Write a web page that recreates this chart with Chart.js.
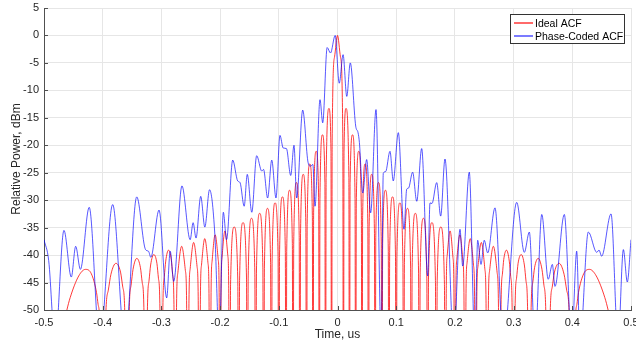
<!DOCTYPE html>
<html>
<head>
<meta charset="utf-8">
<script src="https://cdn.jsdelivr.net/npm/chart.js@4.4.1/dist/chart.umd.min.js"></script>
<style>
html,body{margin:0;padding:0;background:#ffffff;}
#wrap{width:636px;height:348px;position:relative;}
</style>
</head>
<body>
<div id="wrap"><canvas id="c" width="636" height="348"></canvas></div>
<script>
const seriesNames = ['Ideal ACF', 'Phase-Coded ACF'];
const seriesColors = ['rgba(255,0,0,0.78)', 'rgba(0,0,255,0.66)'];
const legendColors = ['rgba(255,0,0,0.9)', 'rgba(0,0,255,0.8)'];
const xTickValues = [-0.5, -0.4, -0.3, -0.2, -0.1, 0, 0.1, 0.2, 0.3, 0.4, 0.5];
const yTickValues = [-50, -45, -40, -35, -30, -25, -20, -15, -10, -5, 0, 5];
const xTitle = 'Time, us';
const yTitle = 'Relative Power, dBm';

const idealTime = [
  -0.5, -0.46838, -0.46127, -0.45528, -0.44084, -0.429289, -0.41938, -0.41056, -0.4078, -0.40513, -0.4,
  -0.39512, -0.39046, -0.38598, -0.377526, -0.36962, -0.36584, -0.36216, -0.358579,
  -0.355043, -0.35167, -0.34834, -0.341886, -0.33569, -0.33267, -0.329682, -0.326795,
  -0.323908, -0.32111, -0.31834, -0.312917, -0.30765, -0.30506, -0.3025, -0.3,
  -0.2975, -0.29506, -0.29264, -0.287868, -0.28321, -0.28091, -0.278629, -0.276393,
  -0.274157, -0.27196, -0.265479, -0.25917, -0.257092, -0.255051,
  -0.25301, -0.251, -0.245049, -0.23923, -0.237315, -0.235425,
  -0.233535, -0.23167, -0.226139, -0.22071, -0.218925, -0.217157,
  -0.215389, -0.21364, -0.208452, -0.20335, -0.201667, -0.2,
  -0.198333, -0.19668, -0.19178, -0.18695, -0.185353, -0.183772,
  -0.182191, -0.175963, -0.169846, -0.168338,
  -0.16683, -0.160884, -0.155033, -0.15359,
  -0.152147, -0.146447, -0.140832, -0.139445,
  -0.138058, -0.132577, -0.12717, -0.125834,
  -0.124498, -0.119211, -0.113993, -0.112702,
  -0.111411, -0.1063, -0.10125, -0.1,
  -0.09875, -0.093798, -0.088902, -0.087689,
  -0.086476, -0.08167, -0.076915, -0.075736,
  -0.074557, -0.069884, -0.065257, -0.06411,
  -0.062963, -0.058412, -0.053904, -0.052786,
  -0.051668, -0.047231, -0.042833, -0.041742,
  -0.040651, -0.036319, -0.032024, -0.030958,
  -0.029892, -0.025658, -0.02146, -0.020417,
  -0.019374, -0.01451, -0.011123, -0.010102,
  -0.009081, -0.005025,
  0,
  0.005025, 0.009081,
  0.010102, 0.011123, 0.01451, 0.019374,
  0.020417, 0.02146, 0.025658, 0.029892,
  0.030958, 0.032024, 0.036319, 0.040651,
  0.041742, 0.042833, 0.047231, 0.051668,
  0.052786, 0.053904, 0.058412, 0.062963,
  0.06411, 0.065257, 0.069884, 0.074557,
  0.075736, 0.076915, 0.08167, 0.086476,
  0.087689, 0.088902, 0.093798, 0.09875,
  0.1, 0.10125, 0.1063, 0.111411,
  0.112702, 0.113993, 0.119211, 0.124498,
  0.125834, 0.12717, 0.132577, 0.138058,
  0.139445, 0.140832, 0.146447, 0.152147,
  0.15359, 0.155033, 0.160884, 0.16683,
  0.168338, 0.169846, 0.175963, 0.182191,
  0.183772, 0.185353, 0.18695, 0.19178, 0.19668, 0.198333,
  0.2, 0.201667, 0.20335, 0.208452, 0.21364, 0.215389,
  0.217157, 0.218925, 0.22071, 0.226139, 0.23167, 0.233535,
  0.235425, 0.237315, 0.23923, 0.245049, 0.251, 0.25301,
  0.255051, 0.257092, 0.25917, 0.265479, 0.27196, 0.274157,
  0.276393, 0.278629, 0.28091, 0.28321, 0.287868, 0.29264, 0.29506, 0.2975,
  0.3, 0.3025, 0.30506, 0.30765, 0.312917, 0.31834, 0.32111, 0.323908,
  0.326795, 0.329682, 0.33267, 0.33569, 0.341886, 0.34834, 0.35167, 0.355043,
  0.358579, 0.36216, 0.36584, 0.36962, 0.377526, 0.38598, 0.39046, 0.39512,
  0.4, 0.40513, 0.4078, 0.41056, 0.41938, 0.429289, 0.44084, 0.45528, 0.46127, 0.46838, 0.5
];
const idealLevel = [
  -100, -53.6, -50.1, -47.7, -43.8, -42.6, -43.4, -46.8, -49.0, -52.3, -100,
  -52.1, -46.4, -43.5, -41.5, -43.1, -45.8, -51.3, -100,
  -51.2, -45.5, -42.6, -40.6, -42.3, -45.0, -50.5, -100,
  -50.4, -44.7, -41.8, -39.9, -41.5, -44.2, -49.8, -100,
  -49.6, -43.9, -41.1, -39.1, -40.8, -43.5, -49.0, -100,
  -48.9, -43.2, -38.4, -42.8, -48.3, -100,
  -48.2, -42.5, -37.7, -42.1, -47.6, -100,
  -47.5, -41.8, -37.0, -41.4, -47.0, -100,
  -46.8, -41.1, -36.3, -40.7, -46.2, -100,
  -46.1, -40.4, -35.6, -40.0, -45.5, -100,
  -45.4, -34.9, -44.7, -100,
  -44.6, -34.1, -44.0, -100,
  -43.8, -33.3, -43.1, -100,
  -42.9, -32.4, -42.2, -100,
  -42.0, -31.5, -41.3, -100,
  -41.1, -30.5, -40.2, -100,
  -40.0, -29.4, -39.1, -100,
  -38.9, -28.2, -37.9, -100,
  -37.6, -26.8, -36.4, -100,
  -36.1, -25.3, -34.8, -100,
  -34.4, -23.4, -32.8, -100,
  -32.3, -21.1, -30.3, -100,
  -29.7, -18.1, -26.8, -100,
  -25.9, -13.3, -21.1, -100,
  -19.2, -3.9,
  0,
  -3.9, -19.2,
  -100, -21.1, -13.3, -25.9,
  -100, -26.8, -18.1, -29.7,
  -100, -30.3, -21.1, -32.3,
  -100, -32.8, -23.4, -34.4,
  -100, -34.8, -25.3, -36.1,
  -100, -36.4, -26.8, -37.6,
  -100, -37.9, -28.2, -38.9,
  -100, -39.1, -29.4, -40.0,
  -100, -40.2, -30.5, -41.1,
  -100, -41.3, -31.5, -42.0,
  -100, -42.2, -32.4, -42.9,
  -100, -43.1, -33.3, -43.8,
  -100, -44.0, -34.1, -44.6,
  -100, -44.7, -34.9, -45.4,
  -100, -45.5, -40.0, -35.6, -40.4, -46.1,
  -100, -46.2, -40.7, -36.3, -41.1, -46.8,
  -100, -47.0, -41.4, -37.0, -41.8, -47.5,
  -100, -47.6, -42.1, -37.7, -42.5, -48.2,
  -100, -48.3, -42.8, -38.4, -43.2, -48.9,
  -100, -49.0, -43.5, -40.8, -39.1, -41.1, -43.9, -49.6,
  -100, -49.8, -44.2, -41.5, -39.9, -41.8, -44.7, -50.4,
  -100, -50.5, -45.0, -42.3, -40.6, -42.6, -45.5, -51.2,
  -100, -51.3, -45.8, -43.1, -41.5, -43.5, -46.4, -52.1,
  -100, -52.3, -49.0, -46.8, -43.4, -42.6, -43.8, -47.7, -50.1, -53.6, -100
];

const codedTime = [
  -0.5, -0.492, -0.481, -0.466, -0.4535, -0.446, -0.438, -0.423, -0.405, -0.383, -0.362,
  -0.342, -0.327, -0.322, -0.318, -0.304, -0.291, -0.285, -0.279, -0.265,
  -0.251, -0.246, -0.241, -0.233, -0.226, -0.218, -0.209, -0.2014, -0.1945, -0.189,
  -0.1785, -0.17, -0.166, -0.159, -0.1537, -0.146, -0.1377, -0.129, -0.126, -0.119,
  -0.112, -0.1048, -0.098, -0.0925, -0.087, -0.0797, -0.0741, -0.0695, -0.0593,
  -0.05, -0.046, -0.042, -0.0383, -0.0298, -0.0252, -0.0176, -0.0119, -0.004,
  0.003, 0.0095, 0.0158, 0.0218, 0.031, 0.035, 0.0373, 0.043, 0.0497, 0.0565, 0.0656,
  0.0745, 0.078, 0.082, 0.0894, 0.095, 0.1036, 0.1133, 0.1179, 0.121, 0.128, 0.135,
  0.1434, 0.1537, 0.1576, 0.161, 0.169, 0.1758, 0.1831, 0.198, 0.2087, 0.2133, 0.2245,
  0.234, 0.2388, 0.2445, 0.25, 0.2559, 0.2683, 0.2825, 0.3053, 0.3183, 0.3268,
  0.3365, 0.348, 0.359, 0.366, 0.3705, 0.3864, 0.399, 0.4075, 0.413, 0.4273,
  0.4416, 0.4455, 0.45, 0.466, 0.478, 0.487, 0.4937, 0.5
];
const codedLevel = [
  -37.2, -41.0, -56, -35.5, -44.0, -38.4, -42.6, -31.3, -56, -30.8, -56,
  -29.4, -39.0, -39.3, -40.4, -31.8, -47.8, -39.3, -44.8, -27.4,
  -37.2, -34.1, -36.9, -29.3, -34.9, -28.1, -36.2, -56, -32.2, -37.2,
  -22.7, -26.5, -26.8, -31.1, -25.3, -32.2, -21.9, -24.7, -24.4, -29.6,
  -22.7, -29.6, -18.2, -20.5, -20.6, -25.5, -20.0, -29.6, -13.6,
  -23.2, -23.8, -23.5, -31.1, -11.7, -15.9, -2.2, -3.2, 0,
  -8.7, -3.5, -11.1, -5.0, -16.5, -17.7, -19.5, -28.7, -22.6, -32.3, -13.5,
  -56, -25.1, -24.8, -21.1, -26.5, -17.7, -35.3, -28.0, -27.8, -24.9, -30.2,
  -20.6, -43.8, -30.5, -30.6, -26.8, -32.9, -22.5, -56, -35.3, -42.0, -24.9,
  -56, -37.3, -41.7, -37.3, -39.6, -31.4, -56, -30.4, -39.5, -35.8,
  -56, -32.6, -44.4, -41.7, -45.7, -32.6, -56, -39.3, -56, -35.8,
  -39.5, -39.1, -40.2, -32.5, -56, -39.0, -44.9, -37.2
];

const idealPoints = idealTime.map((t, i) => ({ x: t, y: idealLevel[i] }));
const codedPoints = codedTime.map((t, i) => ({ x: t, y: codedLevel[i] }));

const FONT = '"Liberation Sans", Arial, Helvetica, sans-serif';
const TEXT = '#262626';

const innerTicks = {
  id: 'innerTicks',
  afterDraw(chart) {
    const { ctx, chartArea } = chart;
    const xs = chart.scales.x, ys = chart.scales.y;
    ctx.save();
    ctx.strokeStyle = '#505050';
    ctx.lineWidth = 1;
    ctx.beginPath();
    xTickValues.forEach(v => {
      const px = Math.round(xs.getPixelForValue(v)) + 0.5;
      ctx.moveTo(px, chartArea.bottom);
      ctx.lineTo(px, chartArea.bottom - 4);
    });
    yTickValues.forEach(v => {
      const py = Math.round(ys.getPixelForValue(v)) + 0.5;
      ctx.moveTo(chartArea.left, py);
      ctx.lineTo(chartArea.left + 4, py);
    });
    ctx.stroke();
    ctx.restore();
  }
};

const legendBox = {
  id: 'legendBox',
  afterDraw(chart) {
    const ctx = chart.ctx;
    ctx.save();
    ctx.fillStyle = '#ffffff';
    ctx.fillRect(511, 15, 113, 28);
    ctx.fillStyle = '#333333';
    ctx.fillRect(510, 14, 115, 1);
    ctx.fillRect(510, 43, 115, 1);
    ctx.fillRect(510, 14, 1, 30);
    ctx.fillRect(624, 14, 1, 30);
    ctx.font = '10.5px ' + FONT;
    ctx.textBaseline = 'middle';
    ctx.textAlign = 'left';
    seriesNames.forEach((name, i) => {
      const y = 23 + i * 13;
      ctx.beginPath();
      ctx.strokeStyle = legendColors[i];
      ctx.lineWidth = 1.3;
      ctx.moveTo(514, y);
      ctx.lineTo(533, y);
      ctx.stroke();
      ctx.fillStyle = '#000000';
      ctx.fillText(name, 535, y + 1);
    });
    ctx.restore();
  }
};

new Chart(document.getElementById('c').getContext('2d'), {
  type: 'line',
  data: {
    datasets: [
      {
        label: seriesNames[0],
        data: idealPoints,
        borderColor: seriesColors[0],
        borderWidth: 1,
        pointRadius: 0,
        cubicInterpolationMode: 'monotone',
        fill: false,
        order: 1
      },
      {
        label: seriesNames[1],
        data: codedPoints,
        borderColor: seriesColors[1],
        borderWidth: 1,
        pointRadius: 0,
        cubicInterpolationMode: 'monotone',
        fill: false,
        order: 0
      }
    ]
  },
  options: {
    responsive: false,
    animation: false,
    events: [],
    layout: { padding: { left: 0, right: 5, top: 8, bottom: 0 } },
    elements: { line: { capBezierPoints: false }, point: { radius: 0 } },
    plugins: { legend: { display: false }, tooltip: { enabled: false } },
    scales: {
      x: {
        type: 'linear',
        min: -0.5,
        max: 0.5,
        afterBuildTicks(scale) { scale.ticks = xTickValues.map(v => ({ value: v })); },
        afterFit(scale) { scale.height = 38; scale.paddingLeft = 0; scale.paddingRight = 0; },
        ticks: {
          font: { family: FONT, size: 11 },
          color: TEXT,
          padding: 6,
          maxRotation: 0,
          autoSkip: false,
          callback: (v) => String(Number(Number(v).toFixed(1)))
        },
        grid: { color: '#e6e6e6', lineWidth: 1, drawTicks: false },
        border: { display: true, color: '#505050', width: 1 },
        title: {
          display: true,
          text: xTitle,
          font: { family: FONT, size: 12 },
          color: TEXT,
          padding: { top: 0, bottom: 6 }
        }
      },
      y: {
        type: 'linear',
        min: -50,
        max: 5,
        afterBuildTicks(scale) { scale.ticks = yTickValues.map(v => ({ value: v })); },
        afterFit(scale) { scale.width = 44; scale.paddingTop = 0; scale.paddingBottom = 0; },
        ticks: {
          font: { family: FONT, size: 11 },
          color: TEXT,
          padding: 5,
          autoSkip: false,
          callback: (v) => String(v)
        },
        grid: { color: '#e6e6e6', lineWidth: 1, drawTicks: false },
        border: { display: true, color: '#505050', width: 1 },
        title: {
          display: true,
          text: yTitle,
          font: { family: FONT, size: 12 },
          color: TEXT,
          padding: { top: 9, bottom: 0 }
        }
      }
    }
  },
  plugins: [innerTicks, legendBox]
});
</script>
</body>
</html>
